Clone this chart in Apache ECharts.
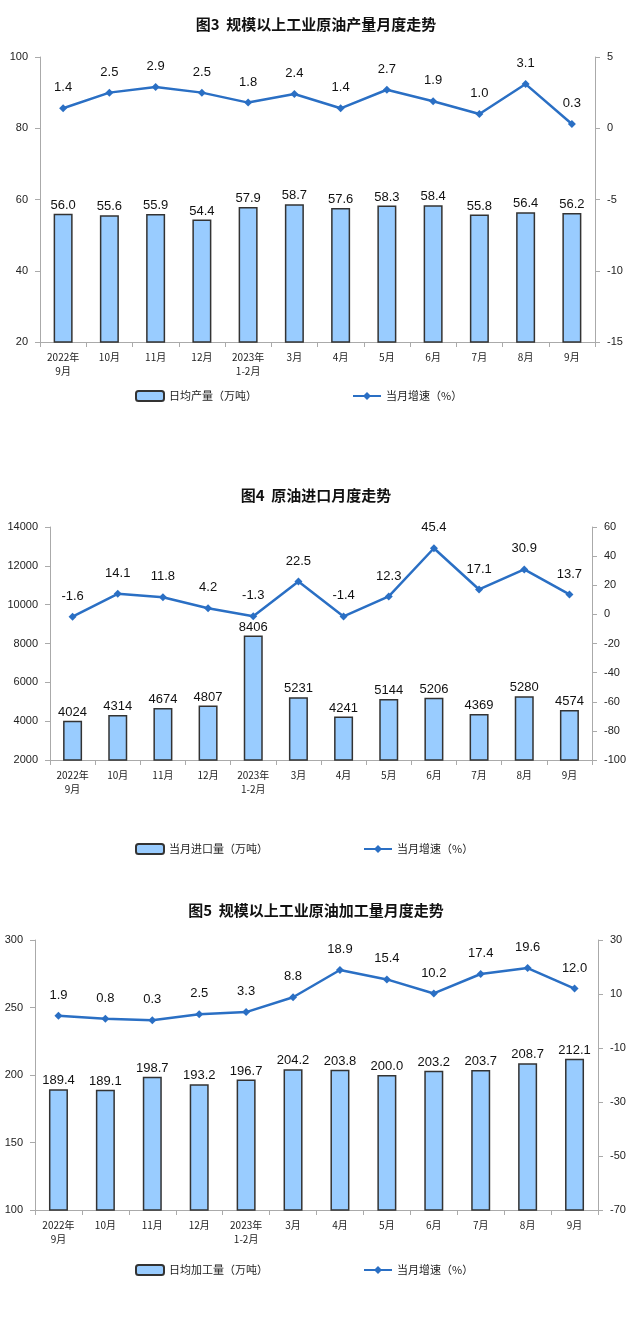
<!DOCTYPE html>
<html><head><meta charset="utf-8">
<script src="https://cdn.jsdelivr.net/npm/echarts@6/dist/echarts.min.js"></script>
<style>body{margin:0;background:#fff}#c{width:632px;height:1330px}</style>
</head><body><div id="c"></div>
<script>
const months = ['2022年\n9月', '10月', '11月', '12月', '2023年\n1-2月', '3月', '4月', '5月', '6月', '7月', '8月', '9月'];

const crudeOutput = [56.0, 55.6, 55.9, 54.4, 57.9, 58.7, 57.6, 58.3, 58.4, 55.8, 56.4, 56.2];
const crudeOutputGrowth = [1.4, 2.5, 2.9, 2.5, 1.8, 2.4, 1.4, 2.7, 1.9, 1.0, 3.1, 0.3];

const crudeImport = [4024, 4314, 4674, 4807, 8406, 5231, 4241, 5144, 5206, 4369, 5280, 4574];
const crudeImportGrowth = [-1.6, 14.1, 11.8, 4.2, -1.3, 22.5, -1.4, 12.3, 45.4, 17.1, 30.9, 13.7];

const crudeProcess = [189.4, 189.1, 198.7, 193.2, 196.7, 204.2, 203.8, 200.0, 203.2, 203.7, 208.7, 212.1];
const crudeProcessGrowth = [1.9, 0.8, 0.3, 2.5, 3.3, 8.8, 18.9, 15.4, 10.2, 17.4, 19.6, 12.0];

const panels = [
  { title: '图3  规模以上工业原油产量月度走势', titleTop: 12, top: 57, height: 285, left: 40, right: 37,
    lmin: 20, lmax: 100, lint: 20, rmin: -15, rmax: 5, rint: 5, legendTop: 385,
    barName: '日均产量（万吨）', bars: crudeOutput, line: crudeOutputGrowth, fmt: v => v.toFixed(1) },
  { title: '图4  原油进口月度走势', titleTop: 483, top: 527, height: 233, left: 50, right: 40,
    lmin: 2000, lmax: 14000, lint: 2000, rmin: -100, rmax: 60, rint: 20, legendTop: 838,
    barName: '当月进口量（万吨）', bars: crudeImport, line: crudeImportGrowth, fmt: v => String(v) },
  { title: '图5  规模以上工业原油加工量月度走势', titleTop: 898, top: 940, height: 270, left: 35, right: 34,
    lmin: 100, lmax: 300, lint: 50, rmin: -70, rmax: 30, rint: 20, legendTop: 1259,
    barName: '日均加工量（万吨）', bars: crudeProcess, line: crudeProcessGrowth, fmt: v => v.toFixed(1) }
];

const font = "'Liberation Sans', Arial, sans-serif";
const cjk = "'Noto Sans CJK SC', sans-serif";
const option = { animation: false, title: [], legend: [], grid: [], xAxis: [], yAxis: [], series: [] };

panels.forEach((p, i) => {
  option.title.push({ text: p.title, left: 'center', top: p.titleTop,
    textStyle: { fontFamily: cjk, fontSize: 15, fontWeight: 'bold', color: '#111' } });
  option.legend.push({ top: p.legendTop, left: 130, itemGap: 95, itemWidth: 28, itemHeight: 10,
    data: [p.barName, { name: '当月增速（%）' + ' '.repeat(i) }],
    textStyle: { fontFamily: cjk, fontSize: 11, color: '#222' } });
  option.grid.push({ left: p.left, right: p.right, top: p.top, height: p.height });
  option.xAxis.push({ type: 'category', gridIndex: i, data: months,
    axisLine: { onZero: false, lineStyle: { color: '#aaa' } }, axisTick: { show: true, lineStyle: { color: '#aaa' } },
    axisLabel: { fontFamily: cjk, fontSize: 10, color: '#222', lineHeight: 14, interval: 0 } });
  const yl = { gridIndex: i, type: 'value', splitLine: { show: false },
    axisLine: { show: true, lineStyle: { color: '#aaa' } }, axisTick: { show: true, lineStyle: { color: '#aaa' } },
    axisLabel: { fontFamily: font, fontSize: 11, color: '#222', margin: 12, formatter: v => String(v) } };
  option.yAxis.push(Object.assign({}, yl, { min: p.lmin, max: p.lmax, interval: p.lint }));
  option.yAxis.push(Object.assign({}, yl, { min: p.rmin, max: p.rmax, interval: p.rint, position: 'right' }));
  option.series.push({ name: p.barName, type: 'bar', xAxisIndex: i, yAxisIndex: 2 * i, data: p.bars, barWidth: 19,
    itemStyle: { color: '#99ccff', borderColor: '#333', borderWidth: 1.5 },
    label: { show: true, position: 'top', distance: 2, fontFamily: font, fontSize: 13, color: '#111', formatter: d => p.fmt(d.value) } });
  option.series.push({ name: '当月增速（%）' + ' '.repeat(i), type: 'line', xAxisIndex: i, yAxisIndex: 2 * i + 1, data: p.line,
    symbol: 'diamond', symbolSize: 8, lineStyle: { color: '#2a6fc4', width: 2.5 }, itemStyle: { color: '#2a6fc4' },
    label: { show: true, position: 'top', distance: 10, fontFamily: font, fontSize: 13, color: '#111', formatter: d => p.fmt(d.value) } });
});

echarts.init(document.getElementById('c')).setOption(option);
</script></body></html>
